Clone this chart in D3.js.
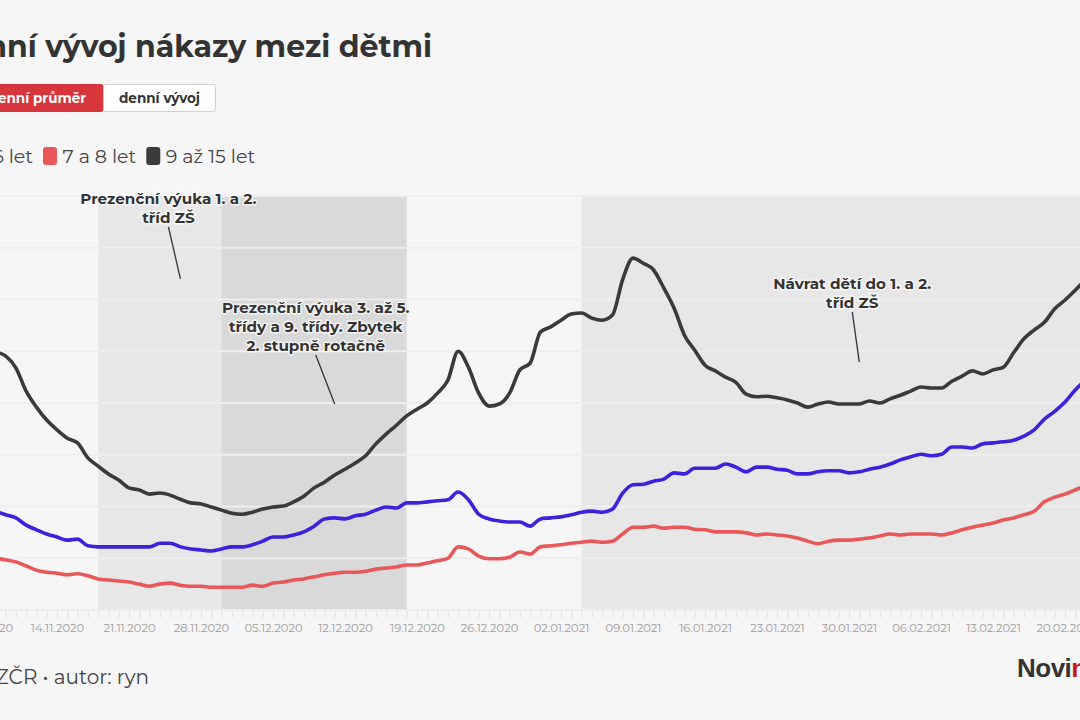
<!DOCTYPE html>
<html lang="cs">
<head>
<meta charset="utf-8">
<script src="https://cdn.jsdelivr.net/npm/d3@7"></script>
<style>
  html, body { margin: 0; padding: 0; background: #f6f6f6; overflow: hidden; }
  svg { display: block; font-family: 'Montserrat', 'Inter', 'Noto Sans', sans-serif; }
</style>
</head>
<body>
<svg id="chart" width="1080" height="720"></svg>
<script>
// ---------- DATA ----------
const titleText = "Sedmidenní vývoj nákazy mezi dětmi";
const buttons = ["Sedmidenní průměr", "denní vývoj"];
const seriesNames = ["0 až 6 let", "7 a 8 let", "9 až 15 let"];
const seriesColors = ["#3c22dc", "#e85858", "#3a3a3a"];
const sourceText = "Zdroj: MZČR • autor: ryn";
const firstDay = "2020-11-07"; // one value per consecutive day from here
const weekTicks = ["07.11.2020","14.11.2020","21.11.2020","28.11.2020","05.12.2020","12.12.2020",
  "19.12.2020","26.12.2020","02.01.2021","09.01.2021","16.01.2021","23.01.2021","30.01.2021",
  "06.02.2021","13.02.2021","20.02.2021","27.02.2021"];
const yTicks = [0,100,200,300,400,500,600,700,800];

const kids0to6 = [
  197,191,184,178,164,155,147,
  141,135,137,124,122,122,122,122,122,122,
  129,129,122,118,116,114,118,122,122,126,
  133,141,141,145,151,162,176,178,176,182,
  185,193,199,197,207,207,209,211,213,228,
  213,185,176,172,170,170,162,176,178,180,
  184,189,191,189,195,226,242,243,249,253,
  265,263,274,274,274,282,276,267,276,276,
  272,270,263,263,267,269,269,265,267,272,
  276,282,290,296,301,298,301,315,315,313,
  321,323,325,328,336,348,369,384,402,425,
  444,460];
const kids7to8 = [
  102,100,97,93,85,77,73,
  71,68,70,66,60,58,56,54,50,46,
  50,52,48,46,46,44,44,44,44,48,
  46,52,54,58,60,64,68,71,73,73,
  75,79,81,83,87,87,91,95,100,122,
  118,104,99,99,102,112,108,122,124,126,
  129,131,133,131,133,147,160,160,162,158,
  160,160,156,155,151,151,151,149,145,147,
  145,143,139,133,128,133,135,135,137,139,
  143,147,145,147,147,147,145,149,155,160,
  164,168,174,178,184,191,209,218,224,232,
  240,245];
const kids9to15 = [
  515,500,491,468,423,392,367,
  348,332,323,294,278,263,251,236,232,224,
  226,222,214,207,205,199,193,187,185,189,
  195,199,201,209,220,236,247,261,272,284,
  298,321,340,357,375,388,400,419,444,500,
  469,419,394,398,419,464,477,537,547,560,
  572,574,564,560,570,639,680,670,657,622,
  583,531,502,473,462,450,440,417,412,413,
  410,406,400,392,398,402,398,398,398,404,
  400,408,415,423,431,429,429,442,452,462,
  456,464,469,497,524,541,556,582,599,618,
  638,653];

// school periods (start, end)
const periodStarts = ["2020-11-18", "2020-11-30", "2021-01-04"];
const periodEnds   = ["2020-12-18", "2020-12-18", "2021-03-01"];

// annotations: point date, value, label lines
const annDates  = ["2020-11-26", "2020-12-11", "2021-01-31"];
const annValues = [640, 398, 479];
const annTexts  = [
  ["Prezenční výuka 1. a 2.", "tříd ZŠ"],
  ["Prezenční výuka 3. až 5.", "třídy a 9. třídy. Zbytek", "2. stupně rotačně"],
  ["Návrat dětí do 1. a 2.", "tříd ZŠ"]
];

// ---------- SETUP ----------
const parse = d3.timeParse("%Y-%m-%d");
const parseTick = d3.timeParse("%d.%m.%Y");
const fmtTick = d3.timeFormat("%d.%m.%Y");
const svg = d3.select("#chart");
const W = 1080;

const plotTop = 196, plotBottom = 610;
const x = d3.scaleTime()
  .domain([parse("2020-11-14"), parse("2021-02-20")])
  .range([57, 1065]);
const y = d3.scaleLinear().domain([0, 800]).range([plotBottom, plotTop]);

const start = parse(firstDay);
const dates = kids9to15.map((_, i) => d3.timeDay.offset(start, i));
const series = [kids0to6, kids7to8, kids9to15].map((vals, k) => ({
  name: seriesNames[k], color: seriesColors[k],
  points: vals.map((v, i) => ({ date: dates[i], value: v }))
}));

// ---------- HEADER ----------
svg.append("text")
  .attr("x", 432).attr("y", 57)
  .attr("text-anchor", "end")
  .attr("font-size", 30).attr("font-weight", 700)
  .attr("fill", "#333")
  .text(titleText);

// buttons
const btnY = 84, btnH = 28;
svg.append("rect").attr("x", -120).attr("y", btnY).attr("width", 223.5).attr("height", btnH)
  .attr("rx", 3).attr("fill", "#d6363c");
svg.append("text").attr("x", 86).attr("y", btnY + 19).attr("text-anchor", "end")
  .attr("font-size", 13.5).attr("font-weight", 700).attr("fill", "#fff").text(buttons[0]);
svg.append("rect").attr("x", 103.5).attr("y", btnY + 0.5).attr("width", 112).attr("height", btnH - 1)
  .attr("rx", 2).attr("fill", "#fff").attr("stroke", "#cfcfcf");
svg.append("text").attr("x", 159.5).attr("y", btnY + 19).attr("text-anchor", "middle")
  .attr("font-size", 13.5).attr("font-weight", 700).attr("fill", "#333").text(buttons[1]);

// legend (flow layout, anchored so the 2nd marker sits at x=43)
const legend = svg.append("g");
const items = series.map(s => {
  const g = legend.append("g");
  g.append("rect").attr("y", 147).attr("width", 14).attr("height", 18).attr("rx", 3).attr("fill", s.color);
  const t = g.append("text").attr("x", 19.5).attr("y", 163).attr("font-size", 19)
    .attr("fill", "#444").text(s.name);
  return { g, w: 19.5 + t.node().getComputedTextLength() };
});
let lx = 43 - (items[0].w + 10);
items.forEach(it => { it.g.attr("transform", `translate(${lx},0)`); lx += it.w + 10; });

// ---------- PLOT ----------
const plot = svg.append("g");
// shaded school periods
plot.selectAll("rect.period").data(periodStarts).join("rect")
  .attr("class", "period")
  .attr("x", (d) => x(parse(d)))
  .attr("width", (d, i) => x(parse(periodEnds[i])) - x(parse(d)))
  .attr("y", plotTop).attr("height", plotBottom - plotTop)
  .attr("fill", "#000").attr("fill-opacity", 0.06);

// horizontal gridlines
plot.selectAll("line.grid").data(yTicks).join("line")
  .attr("class", "grid")
  .attr("x1", 0).attr("x2", W)
  .attr("y1", d => y(d)).attr("y2", d => y(d))
  .attr("stroke", "#eeeeee").attr("stroke-width", 2);

// day ticks + labels
const xMin = x.invert(-40), xMax = x.invert(W + 40);
const dayAxis = d3.axisBottom(x).ticks(d3.timeDay.every(1)).tickSize(8).tickFormat("");
const ga = plot.append("g").attr("transform", `translate(0,${plotBottom})`);
x.domain([xMin, xMax]).range([-40, W + 40]);
ga.call(dayAxis);
ga.select(".domain").remove();
ga.selectAll(".tick line").attr("stroke", "#e2e2e2");

const labelAxis = d3.axisBottom(x)
  .tickValues(weekTicks.map(parseTick))
  .tickSize(0).tickPadding(14)
  .tickFormat(fmtTick);
const gl = plot.append("g").attr("transform", `translate(0,${plotBottom})`).call(labelAxis);
gl.select(".domain").remove();
gl.selectAll("text").attr("font-size", 11.5).attr("fill", "#9d9d9d")
  .attr("font-family", "'Montserrat','Inter','Noto Sans',sans-serif");

// lines
const line = d3.line().x(d => x(d.date)).y(d => y(d.value)).curve(d3.curveMonotoneX);
plot.selectAll("path.series").data(series).join("path")
  .attr("class", "series")
  .attr("d", d => line(d.points))
  .attr("fill", "none").attr("stroke", d => d.color)
  .attr("stroke-width", 3.6).attr("stroke-linejoin", "round").attr("stroke-linecap", "round");

// annotations
const annOffsets = [[-12, -52, -75], [-19, -49, -91], [-7, -50, -73]];
annDates.forEach((dstr, i) => {
  const px = x(parse(dstr)), py = y(annValues[i]);
  const [dx, dy, ty] = annOffsets[i];
  const g = svg.append("g");
  g.append("line").attr("x1", px).attr("y1", py).attr("x2", px + dx).attr("y2", py + dy)
    .attr("stroke", "#333").attr("stroke-width", 1.3);
  const t = g.append("text").attr("text-anchor", "middle")
    .attr("font-size", 15.2).attr("font-weight", 700).attr("fill", "#333")
    .attr("stroke", "#ffffff").attr("stroke-width", 3).attr("stroke-opacity", 0.7)
    .attr("paint-order", "stroke").attr("stroke-linejoin", "round");
  annTexts[i].forEach((ln, j) => {
    t.append("tspan").attr("x", px + dx).attr("y", py + ty + j * 19).text(ln);
  });
});

// ---------- FOOTER ----------
svg.append("text").attr("x", 149).attr("y", 684).attr("text-anchor", "end")
  .attr("font-size", 20).attr("fill", "#444").text(sourceText);
const logo = svg.append("text").attr("x", 1017).attr("y", 677)
  .attr("font-family", "'Liberation Sans','Arial',sans-serif")
  .attr("font-size", 26).attr("font-weight", 700).attr("letter-spacing", -0.5);
logo.append("tspan").attr("fill", "#333").text("Novi");
logo.append("tspan").attr("fill", "#c8161d").text("nky.cz");
</script>
</body>
</html>
